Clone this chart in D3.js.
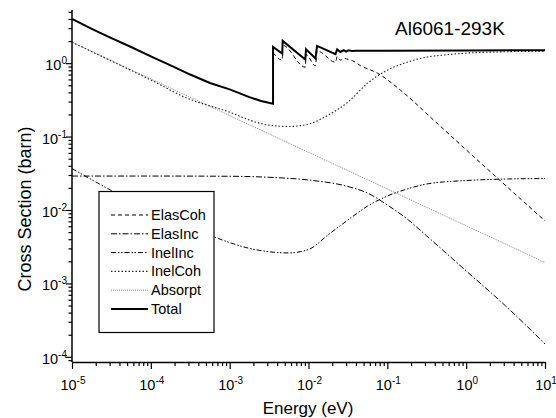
<!DOCTYPE html>
<html>
<head>
<meta charset="utf-8">
<script src="https://cdn.jsdelivr.net/npm/d3@7"></script>
<style>
  body { margin: 0; background: #fff; }
  svg { display: block; font-family: "Liberation Sans", Arial, sans-serif; }
</style>
</head>
<body>
<svg id="chart" width="556" height="418"></svg>
<script>
// values (energy in eV, cross section in barn)
const absorptE  = [1e-5, 1e-4, 1e-3, 1e-2, 1e-1, 1, 10];
const absorptXS = [1.93, 0.61, 0.193, 0.061, 0.0193, 0.0061, 0.00193];

const inelCohE  = [1e-5, 3.16e-5, 1e-4, 3.16e-4, 6.3e-4, 1e-3, 1.78e-3, 3.16e-3, 5.62e-3, 1e-2, 1.78e-2, 3.16e-2, 5.62e-2, 0.1, 0.178, 0.316, 0.562, 1, 3.16, 10];
const inelCohXS = [1.93, 1.07, 0.59, 0.32, 0.252, 0.215, 0.168, 0.143, 0.137, 0.148, 0.196, 0.295, 0.534, 0.803, 1.03, 1.21, 1.30, 1.37, 1.43, 1.46];

const elasIncE  = [1e-5, 1e-4, 1e-3, 3.16e-3, 1e-2, 3.16e-2, 5.62e-2, 0.1, 0.178, 0.316, 1, 3.16, 10];
const elasIncXS = [0.029, 0.029, 0.0288, 0.0279, 0.0256, 0.0209, 0.0170, 0.0117, 0.00755, 0.00443, 0.00148, 0.000494, 0.00015];

const inelIncE  = [1e-5, 3.16e-5, 1e-4, 3.16e-4, 6.3e-4, 1e-3, 1.78e-3, 3.16e-3, 5.62e-3, 1e-2, 1.78e-2, 3.16e-2, 5.62e-2, 0.1, 0.178, 0.316, 1, 3.16, 10];
const inelIncXS = [0.0367, 0.0184, 0.0097, 0.0055, 0.0043, 0.0036, 0.0030, 0.0027, 0.0026, 0.0029, 0.0046, 0.0073, 0.0113, 0.0155, 0.0193, 0.0226, 0.0252, 0.0264, 0.0268];

const elasCohE  = [3.55e-3, 4.65e-3, 4.7e-3, 9.1e-3, 9.3e-3, 0.01225, 0.01285, 0.022, 0.0231, 0.0254, 0.028, 0.032, 0.036, 0.0457, 0.075, 0.147, 0.386, 1.04, 2.74, 10];
const elasCohXS = [1.39, 1.10, 1.75, 0.88, 1.31, 0.92, 1.47, 1.03, 1.23, 1.10, 1.17, 1.12, 1.08, 0.925, 0.731, 0.429, 0.168, 0.0635, 0.0248, 0.0071];

const totalE  = [1e-5, 1.78e-5, 3.16e-5, 5.62e-5, 1e-4, 1.78e-4, 3.16e-4, 5.62e-4, 1e-3, 1.78e-3, 2.5e-3, 3.55e-3, 3.55e-3, 4.65e-3, 4.7e-3, 9.1e-3, 9.3e-3, 0.01225, 0.01285, 0.022, 0.0231, 0.0254, 0.028, 0.030, 0.032, 0.036, 0.040, 0.1, 1, 10];
const totalXS = [4.0, 2.93, 2.2, 1.66, 1.24, 0.935, 0.70, 0.537, 0.44, 0.345, 0.305, 0.28, 1.667, 1.355, 2.01, 1.12, 1.55, 1.16, 1.72, 1.33, 1.54, 1.42, 1.50, 1.44, 1.50, 1.46, 1.48, 1.48, 1.49, 1.50];

const seriesNames = ["ElasCoh", "ElasInc", "InelInc", "InelCoh", "Absorpt", "Total"];
const xMajor = [1e-5, 1e-4, 1e-3, 1e-2, 1e-1, 1, 10];
const yMajor = [1e-4, 1e-3, 1e-2, 1e-1, 1];
const xLabels = ["-5", "-4", "-3", "-2", "-1", "0", "1"];
const yLabels = ["-4", "-3", "-2", "-1", "0"];

const svg = d3.select("#chart");
const x = d3.scaleLog().domain([1e-5, 10]).range([72, 545]);
const y = d3.scaleLog().domain([8.5e-5, 5.3]).range([362, 10]);

// minor ticks 2..9 per decade
const xMinor = [];
for (let d = -5; d < 1; d++) for (let m = 2; m < 10; m++) xMinor.push(m * Math.pow(10, d));
const yMinor = [];
for (let d = -5; d < 1; d++) for (let m = 2; m < 10; m++) {
  const v = m * Math.pow(10, d);
  if (v >= 8.5e-5 && v <= 5.3) yMinor.push(v);
}

svg.append("clipPath").attr("id", "plot")
  .append("rect").attr("x", 72).attr("y", 8).attr("width", 475).attr("height", 354);

const styles = {
  ElasCoh: { dash: "4,3", width: 1, color: "#000" },
  ElasInc: { dash: "6,2,1.5,2", width: 1, color: "#000" },
  InelInc: { dash: "5,2,1.5,1.5,1.5,2", width: 1, color: "#000" },
  InelCoh: { dash: "1.5,2", width: 1.1, color: "#222" },
  Absorpt: { dash: "1,1", width: 1, color: "#888" },
  Total:   { dash: null, width: 2, color: "#000" }
};

const series = {
  Absorpt: [absorptE, absorptXS, d3.curveLinear],
  InelCoh: [inelCohE, inelCohXS, d3.curveMonotoneX],
  InelInc: [inelIncE, inelIncXS, d3.curveMonotoneX],
  ElasInc: [elasIncE, elasIncXS, d3.curveMonotoneX],
  ElasCoh: [elasCohE, elasCohXS, d3.curveMonotoneX],
  Total:   [totalE, totalXS, d3.curveLinear]
};

const plot = svg.append("g").attr("clip-path", "url(#plot)");
["Absorpt", "InelCoh", "InelInc", "ElasInc", "ElasCoh", "Total"].forEach(name => {
  const [es, vs, curve] = series[name];
  const pts = es.map((e, i) => [e, vs[i]]);
  const line = d3.line().curve(curve).x(d => x(d[0])).y(d => y(d[1]));
  const st = styles[name];
  plot.append("path")
    .datum(pts)
    .attr("d", line)
    .attr("fill", "none")
    .attr("stroke", st.color)
    .attr("stroke-width", st.width)
    .attr("stroke-dasharray", st.dash)
    .attr("stroke-linejoin", "miter");
});

// axes
function styleAxis(g) {
  g.select(".domain").attr("stroke-width", 1.5);
  g.selectAll(".tick line").attr("stroke-width", 1.2);
}
const gx = svg.append("g").attr("transform", "translate(0,362)")
  .call(d3.axisBottom(x).tickValues(xMajor).tickSize(7).tickSizeOuter(0).tickFormat(""));
styleAxis(gx);
svg.append("g").attr("transform", "translate(0,362)")
  .call(d3.axisBottom(x).tickValues(xMinor).tickSize(4).tickFormat(""))
  .call(g => g.select(".domain").remove())
  .selectAll(".tick line").attr("stroke-width", 1.2);

const gy = svg.append("g").attr("transform", "translate(72,0)")
  .call(d3.axisLeft(y).tickValues(yMajor).tickSize(6).tickSizeOuter(0).tickFormat(""));
styleAxis(gy);
gy.select(".domain").attr("d", "M0,362V10");
svg.append("g").attr("transform", "translate(72,0)")
  .call(d3.axisLeft(y).tickValues(yMinor).tickSize(3.5).tickFormat(""))
  .call(g => g.select(".domain").remove())
  .selectAll(".tick line").attr("stroke-width", 1.2);

function powLabel(t, exp) {
  t.append("tspan").text("10");
  t.append("tspan").attr("dy", -6).attr("font-size", 10).text(exp);
}
xMajor.forEach((v, i) => {
  const t = svg.append("text").attr("x", x(v) + 1).attr("y", 390)
    .attr("text-anchor", "middle").attr("font-size", 14.5).attr("fill", "#000");
  powLabel(t, xLabels[i]);
});
yMajor.forEach((v, i) => {
  const t = svg.append("text").attr("x", 67).attr("y", y(v) + 7)
    .attr("text-anchor", "end").attr("font-size", 14.5).attr("fill", "#000");
  powLabel(t, yLabels[i]);
});

svg.append("text").attr("x", 308).attr("y", 414).attr("text-anchor", "middle")
  .attr("font-size", 17).text("Energy (eV)");
svg.append("text").attr("transform", "translate(31,209) rotate(-90)")
  .attr("text-anchor", "middle").attr("font-size", 18).text("Cross Section (barn)");

svg.append("text").attr("x", 395).attr("y", 35).attr("font-size", 19).text("Al6061-293K");

// legend
const lg = svg.append("g");
lg.append("rect").attr("x", 99).attr("y", 191.5).attr("width", 115).attr("height", 141)
  .attr("fill", "#fff").attr("stroke", "#000").attr("stroke-width", 1.2);
seriesNames.forEach((name, i) => {
  const yy = 215 + i * 18.8;
  const st = styles[name];
  lg.append("line").attr("x1", 111).attr("x2", 148).attr("y1", yy).attr("y2", yy)
    .attr("stroke", st.color).attr("stroke-width", st.width).attr("stroke-dasharray", st.dash);
  lg.append("text").attr("x", 151).attr("y", yy + 5).attr("font-size", 14.5).text(name);
});
</script>
</body>
</html>
